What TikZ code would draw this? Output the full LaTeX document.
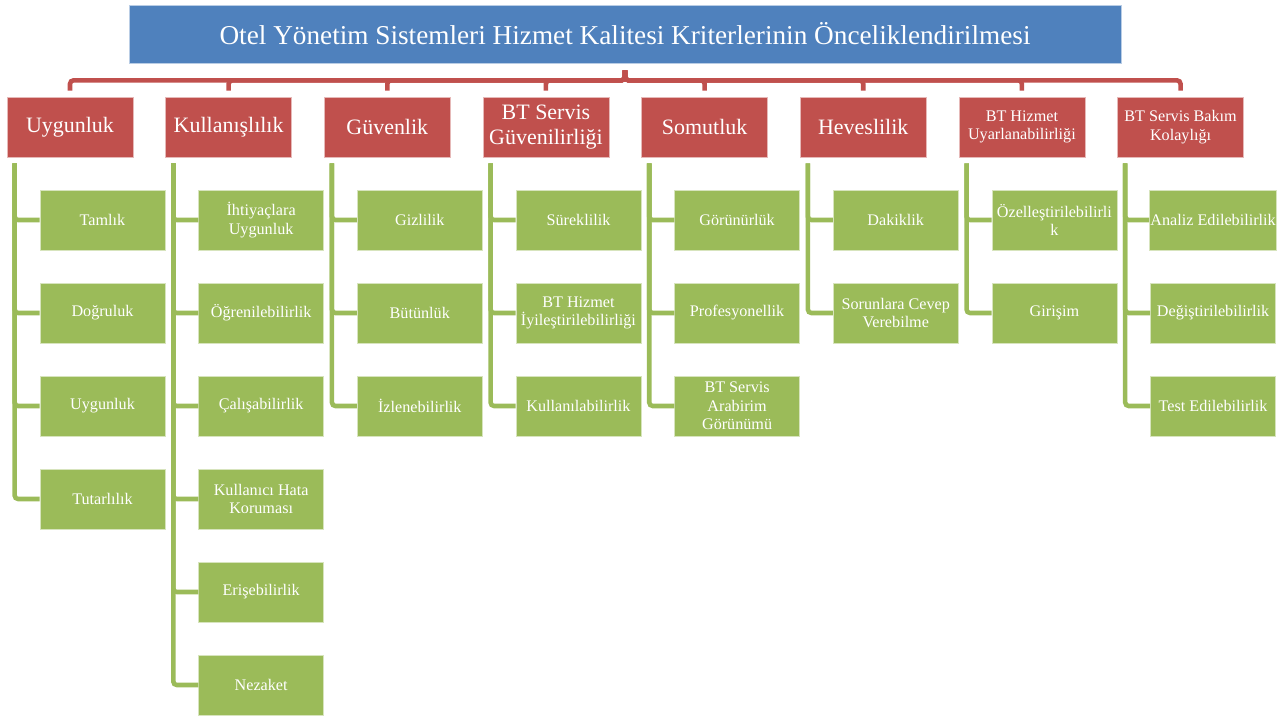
\documentclass[tikz,border=0pt]{standalone}
\usepackage{fontspec}
\setmainfont{Liberation Serif}
\usetikzlibrary{positioning}
\definecolor{titleblue}{RGB}{79,129,189}
\definecolor{hdrred}{RGB}{192,80,77}
\definecolor{leafgreen}{RGB}{155,187,89}

\tikzset{
  titlebox/.style={fill=titleblue, draw=white!60!titleblue, minimum width=19.84cm,
    minimum height=1.16cm, text=white, font=\fontsize{15.5}{18}\selectfont},
  hdr/.style={fill=hdrred, draw=white!60!hdrred, minimum width=2.52cm, minimum height=1.2cm,
    inner xsep=1pt, text=white, align=center, font=\fontsize{12.5}{14}\selectfont},
  smallhdr/.style={hdr, font=\fontsize{9.2}{10.5}\selectfont},
  leaf/.style={fill=leafgreen, draw=white!60!leafgreen, minimum width=2.5cm, minimum height=1.2cm,
    inner xsep=0.5pt, text=white, align=center, font=\fontsize{9.2}{10.5}\selectfont},
  hdrlink/.style={draw=hdrred, line width=2.6pt, rounded corners=2pt,
    to path={([yshift=-0.14cm]\tikztostart.south) -- ++(0,-0.2) -| ([yshift=0.12cm]\tikztotarget.north)}},
  branch/.style={draw=leafgreen, line width=2.6pt, rounded corners=2pt,
    to path={([shift={(0.16,-0.12)}]\tikztostart.south west) |- (\tikztotarget.west)}}
}

\begin{document}
\begin{tikzpicture}[node distance=1.86cm,on grid]
  \useasboundingbox (0,0) rectangle (25.74,-14.34);

  \node[titlebox] (title) at (12.5,-0.68) {Otel Yönetim Sistemleri Hizmet Kalitesi Kriterlerinin Önceliklendirilmesi};

  % ana kriterler
  \node[hdr] (uyg) at (1.40,-2.54) {Uygunluk};
  \node[hdr] (kul) [right=3.173cm of uyg] {Kullanışlılık};
  \node[hdr] (guv) [right=3.173cm of kul] {Güvenlik};
  \node[hdr] (bts) [right=3.173cm of guv] {BT Servis\\Güvenilirliği};
  \node[hdr] (som) [right=3.173cm of bts] {Somutluk};
  \node[hdr] (hev) [right=3.173cm of som] {Heveslilik};
  \node[smallhdr] (bth) [right=3.173cm of hev] {BT Hizmet\\Uyarlanabilirliği};
  \node[smallhdr] (btb) [right=3.173cm of bth] {BT Servis Bakım\\Kolaylığı};

  % alt kriterler
  \node[leaf] (uyg1) [below right=1.86cm and 0.65cm of uyg] {Tamlık};
  \node[leaf] (uyg2) [below=of uyg1] {Doğruluk};
  \node[leaf] (uyg3) [below=of uyg2] {Uygunluk};
  \node[leaf] (uyg4) [below=of uyg3] {Tutarlılık};

  \node[leaf] (kul1) [below right=1.86cm and 0.65cm of kul] {İhtiyaçlara\\Uygunluk};
  \node[leaf] (kul2) [below=of kul1] {Öğrenilebilirlik};
  \node[leaf] (kul3) [below=of kul2] {Çalışabilirlik};
  \node[leaf] (kul4) [below=of kul3] {Kullanıcı Hata\\Koruması};
  \node[leaf] (kul5) [below=of kul4] {Erişebilirlik};
  \node[leaf] (kul6) [below=of kul5] {Nezaket};

  \node[leaf] (guv1) [below right=1.86cm and 0.65cm of guv] {Gizlilik};
  \node[leaf] (guv2) [below=of guv1] {Bütünlük};
  \node[leaf] (guv3) [below=of guv2] {İzlenebilirlik};

  \node[leaf] (bts1) [below right=1.86cm and 0.65cm of bts] {Süreklilik};
  \node[leaf] (bts2) [below=of bts1] {BT Hizmet\\İyileştirilebilirliği};
  \node[leaf] (bts3) [below=of bts2] {Kullanılabilirlik};

  \node[leaf] (som1) [below right=1.86cm and 0.65cm of som] {Görünürlük};
  \node[leaf] (som2) [below=of som1] {Profesyonellik};
  \node[leaf] (som3) [below=of som2] {BT Servis\\Arabirim\\Görünümü};

  \node[leaf] (hev1) [below right=1.86cm and 0.65cm of hev] {Dakiklik};
  \node[leaf] (hev2) [below=of hev1] {Sorunlara Cevep\\Verebilme};

  \node[leaf] (bth1) [below right=1.86cm and 0.65cm of bth] {Özelleştirilebilirli\\k};
  \node[leaf] (bth2) [below=of bth1] {Girişim};

  \node[leaf] (btb1) [below right=1.86cm and 0.65cm of btb] {Analiz Edilebilirlik};
  \node[leaf] (btb2) [below=of btb1] {Değiştirilebilirlik};
  \node[leaf] (btb3) [below=of btb2] {Test Edilebilirlik};

  \path
    (title) edge[hdrlink] (uyg) edge[hdrlink] (kul) edge[hdrlink] (guv) edge[hdrlink] (bts)
            edge[hdrlink] (som) edge[hdrlink] (hev) edge[hdrlink] (bth) edge[hdrlink] (btb);
  \path
    (uyg) edge[branch] (uyg1) edge[branch] (uyg2) edge[branch] (uyg3) edge[branch] (uyg4)
    (kul) edge[branch] (kul1) edge[branch] (kul2) edge[branch] (kul3)
          edge[branch] (kul4) edge[branch] (kul5) edge[branch] (kul6)
    (guv) edge[branch] (guv1) edge[branch] (guv2) edge[branch] (guv3)
    (bts) edge[branch] (bts1) edge[branch] (bts2) edge[branch] (bts3)
    (som) edge[branch] (som1) edge[branch] (som2) edge[branch] (som3)
    (hev) edge[branch] (hev1) edge[branch] (hev2)
    (bth) edge[branch] (bth1) edge[branch] (bth2)
    (btb) edge[branch] (btb1) edge[branch] (btb2) edge[branch] (btb3);
\end{tikzpicture}
\end{document}
